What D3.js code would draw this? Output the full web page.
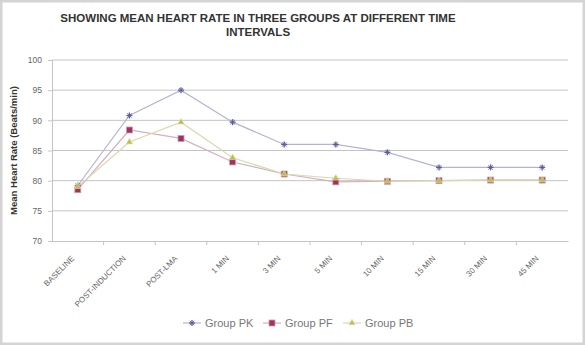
<!DOCTYPE html>
<html><head><meta charset="utf-8">
<script src="https://cdn.jsdelivr.net/npm/d3@7"></script>
<style>body{margin:0;background:#fff;}svg{display:block;}</style>
</head><body>
<script>
const categories = ["BASELINE","POST-INDUCTION","POST-LMA","1 MIN","3 MIN","5 MIN","10 MIN","15 MIN","30 MIN","45 MIN"];
const groupPK = [79.2, 90.8, 95.0, 89.7, 86.0, 86.0, 84.7, 82.2, 82.2, 82.2];
const groupPF = [78.5, 88.4, 87.0, 83.1, 81.1, 79.8, 79.9, 80.0, 80.1, 80.1];
const groupPB = [79.0, 86.4, 89.7, 83.8, 81.1, 80.4, 79.9, 80.0, 80.1, 80.1];
const yTicks = [70, 75, 80, 85, 90, 95, 100];
const seriesNames = ["Group PK", "Group PF", "Group PB"];

const W = 585, H = 345;
const m = {left: 52, right: 17, top: 60, bottom: 104};
const FONT = "Liberation Sans, Arial, sans-serif";
const svg = d3.select("body").append("svg").attr("width", W).attr("height", H);
svg.append("rect").attr("x",1).attr("y",1).attr("width",W-2).attr("height",H-2)
  .attr("fill","#fff").attr("stroke","#d4d4d4").attr("stroke-width",3);

const x = d3.scaleBand().domain(categories).range([m.left, W - m.right]);
const y = d3.scaleLinear().domain([70, 100]).range([H - m.bottom, m.top]);

// gridlines
svg.append("g").selectAll("line").data(yTicks.filter(t => t > 70)).join("line")
  .attr("x1", m.left).attr("x2", W - m.right)
  .attr("y1", d => y(d)).attr("y2", d => y(d))
  .attr("stroke", "#c4c4c4").attr("stroke-width", 1);

// y axis
const ya = svg.append("g").attr("transform", `translate(${m.left},0)`)
  .call(d3.axisLeft(y).tickValues(yTicks).tickSize(4).tickPadding(6));
ya.select(".domain").attr("stroke", "#c4c4c4");
ya.selectAll(".tick line").attr("stroke", "#c4c4c4");
ya.selectAll("text").attr("fill", "#666").style("font-family", FONT).style("font-size", "8.5px");

// x axis
const xa = svg.append("g").attr("transform", `translate(0,${y(70)})`)
  .call(d3.axisBottom(x).tickSize(0));
xa.select(".domain").attr("stroke", "#c4c4c4");
xa.selectAll(".tick text")
  .attr("x", 0).attr("y", 0).attr("dy", 0)
  .attr("text-anchor", "end")
  .attr("transform", "translate(-3,18) rotate(-45)")
  .attr("fill", "#666").style("font-family", FONT).style("font-size", "8px");
// tick marks between categories
svg.append("g").selectAll("line").data(categories.slice(1)).join("line")
  .attr("x1", d => x(d)).attr("x2", d => x(d))
  .attr("y1", y(70)).attr("y2", y(70) + 4).attr("stroke", "#c4c4c4");

// title
const title = svg.append("text").attr("x", 258).attr("y", 22).attr("text-anchor","middle")
  .style("font-family",FONT).style("font-size","11.5px").style("font-weight","bold").attr("fill","#333");
title.append("tspan").attr("x", 258).text("SHOWING MEAN HEART RATE IN THREE GROUPS AT DIFFERENT TIME");
title.append("tspan").attr("x", 258).attr("dy", 14).text("INTERVALS");

// y label
svg.append("text").attr("transform", `translate(17,${(y(70)+y(100))/2}) rotate(-90)`)
  .attr("text-anchor","middle").style("font-family",FONT).style("font-size","9.5px")
  .style("font-weight","bold").attr("fill","#333").text("Mean Heart Rate (Beats/min)");

const cx = d => x(d) + x.bandwidth()/2;
const series = [
  {name: seriesNames[0], vals: groupPK, line: "#b4b4d2", mark: "#5c5ca4", shape: "star"},
  {name: seriesNames[1], vals: groupPF, line: "#d2b0be", mark: "#a3305f", shape: "square"},
  {name: seriesNames[2], vals: groupPB, line: "#d8d8b4", mark: "#bcbc50", shape: "triangle"}
];
const line = d3.line().x((d,i) => cx(categories[i])).y(d => y(d));

function drawMarker(g, shape, color, px, py) {
  if (shape === "square") {
    g.append("rect").attr("x", px-3).attr("y", py-3).attr("width",6).attr("height",6)
      .attr("fill", color).attr("stroke","#c8a0b0").attr("stroke-width",0.8);
  } else if (shape === "triangle") {
    g.append("path").attr("d", d3.symbol(d3.symbolTriangle, 18)()).attr("transform",`translate(${px},${py})`)
      .attr("fill", color).attr("stroke","#e4e4a8").attr("stroke-width",0.6);
  } else {
    const s = 3;
    const gg = g.append("g").attr("stroke", color).attr("stroke-width", 1.3);
    gg.append("line").attr("x1", px-s).attr("x2", px+s).attr("y1", py).attr("y2", py);
    gg.append("line").attr("x1", px).attr("x2", px).attr("y1", py-s).attr("y2", py+s);
    gg.append("line").attr("x1", px-2.2).attr("x2", px+2.2).attr("y1", py-2.2).attr("y2", py+2.2).attr("stroke-width",0.9);
    gg.append("line").attr("x1", px-2.2).attr("x2", px+2.2).attr("y1", py+2.2).attr("y2", py-2.2).attr("stroke-width",0.9);
  }
}

series.forEach(s => {
  svg.append("path").datum(s.vals).attr("d", line).attr("fill","none")
    .attr("stroke", s.line).attr("stroke-width", 1.2);
});
series.forEach(s => {
  const g = svg.append("g");
  s.vals.forEach((v,i) => drawMarker(g, s.shape, s.mark, cx(categories[i]), y(v)));
});

// legend
const lg = svg.append("g");
const lx = [183, 263, 343];
series.forEach((s,i) => {
  const yy = 323;
  lg.append("line").attr("x1", lx[i]).attr("x2", lx[i]+18).attr("y1", yy).attr("y2", yy).attr("stroke", s.line).attr("stroke-width",1.2);
  drawMarker(lg, s.shape, s.mark, lx[i]+9, yy);
  lg.append("text").attr("x", lx[i]+22).attr("y", yy+3.5).style("font-family",FONT)
    .style("font-size","11px").attr("fill","#777").text(s.name);
});
</script>
</body></html>
